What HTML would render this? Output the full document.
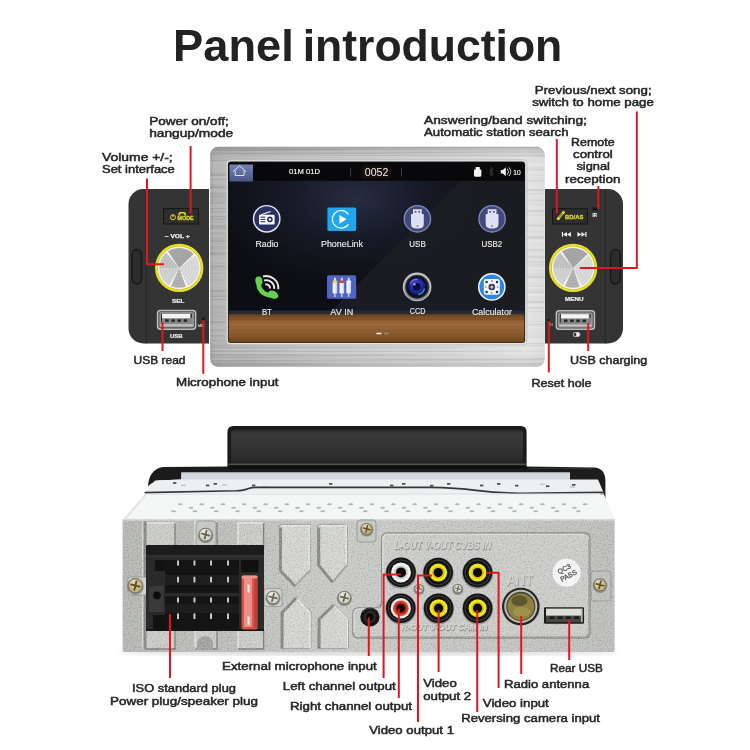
<!DOCTYPE html>
<html><head><meta charset="utf-8"><title>Panel introduction</title>
<style>
html,body{margin:0;padding:0;background:#fff;}
body{width:750px;height:750px;overflow:hidden;font-family:"Liberation Sans",sans-serif;}
svg{display:block;font-family:"Liberation Sans",sans-serif;filter:blur(0.4px);}
</style></head><body>
<svg width="750" height="750" viewBox="0 0 750 750">
<defs>
<linearGradient id="silverV" x1="0" y1="0" x2="0" y2="1">
  <stop offset="0" stop-color="#000" stop-opacity="0.22"/><stop offset="0.02" stop-color="#000" stop-opacity="0.10"/>
  <stop offset="0.06" stop-color="#000" stop-opacity="0"/><stop offset="0.93" stop-color="#000" stop-opacity="0"/>
  <stop offset="0.985" stop-color="#000" stop-opacity="0.07"/><stop offset="1" stop-color="#000" stop-opacity="0.16"/>
</linearGradient>
<linearGradient id="silverH" x1="0" y1="0" x2="1" y2="0">
  <stop offset="0" stop-color="#a0a0a0"/><stop offset="0.012" stop-color="#b2b2b2"/><stop offset="0.05" stop-color="#b9b9b9"/>
  <stop offset="0.3" stop-color="#c8c8c8"/><stop offset="0.65" stop-color="#d6d6d6"/><stop offset="0.94" stop-color="#e5e5e5"/><stop offset="1" stop-color="#dedede"/>
</linearGradient>
<pattern id="brush" width="8" height="3" patternUnits="userSpaceOnUse">
  <rect width="8" height="1" y="0" fill="#fff" opacity="0.10"/><rect width="8" height="1" y="2" fill="#000" opacity="0.035"/>
</pattern>
<radialGradient id="glow" cx="0.43" cy="0.2" r="0.5">
  <stop offset="0" stop-color="#272c42"/><stop offset="0.45" stop-color="#171a27"/><stop offset="1" stop-color="#0d0e13"/>
</radialGradient>
<linearGradient id="wood" x1="0" y1="0" x2="0" y2="1">
  <stop offset="0" stop-color="#63401e"/><stop offset="0.1" stop-color="#784c26"/><stop offset="0.32" stop-color="#9c683a"/><stop offset="0.6" stop-color="#8f5f34"/><stop offset="0.85" stop-color="#7e5024"/><stop offset="1" stop-color="#66401c"/>
</linearGradient>
<linearGradient id="homeb" x1="0" y1="0" x2="0" y2="1">
  <stop offset="0" stop-color="#7482b4"/><stop offset="1" stop-color="#4a5688"/>
</linearGradient>
<radialGradient id="knob" cx="0.5" cy="0.5" r="0.5">
  <stop offset="0" stop-color="#e8e8e8"/><stop offset="0.7" stop-color="#c4c4c4"/><stop offset="1" stop-color="#d8d8d8"/>
</radialGradient>
<radialGradient id="lens" cx="0.45" cy="0.4" r="0.6">
  <stop offset="0" stop-color="#5a6af0"/><stop offset="0.5" stop-color="#2230b0"/><stop offset="1" stop-color="#0a0f50"/>
</radialGradient>
<linearGradient id="zinc" x1="0" y1="0" x2="1" y2="0">
  <stop offset="0" stop-color="#b7b9b6"/><stop offset="0.25" stop-color="#c0c2bf"/><stop offset="0.42" stop-color="#cbcdca"/><stop offset="0.75" stop-color="#c6c8c5"/><stop offset="1" stop-color="#bfc1be"/>
</linearGradient>
<linearGradient id="blackplate" x1="0" y1="0" x2="0" y2="1">
  <stop offset="0" stop-color="#2c2c2c"/><stop offset="0.12" stop-color="#383838"/><stop offset="0.5" stop-color="#343434"/>
  <stop offset="0.85" stop-color="#2c2c2c"/><stop offset="1" stop-color="#222222"/>
</linearGradient>
<filter id="noise" x="0" y="0" width="1" height="1">
  <feTurbulence type="fractalNoise" baseFrequency="0.7" numOctaves="2" seed="3" result="n"/>
  <feColorMatrix type="matrix" values="2.6 0 0 0 -0.8  2.6 0 0 0 -0.8  2.6 0 0 0 -0.8  0 0 0 0 1"/>
  <feComposite in2="SourceGraphic" operator="in"/>
</filter>
<filter id="streak" x="0" y="0" width="1" height="1">
  <feTurbulence type="fractalNoise" baseFrequency="0.003 0.55" numOctaves="2" seed="7"/>
  <feColorMatrix type="matrix" values="3 0 0 0 -1  3 0 0 0 -1  3 0 0 0 -1  0 0 0 0 1"/>
  <feComposite in2="SourceGraphic" operator="in"/>
</filter>
<filter id="b1"><feGaussianBlur stdDeviation="1"/></filter>
<filter id="b05"><feGaussianBlur stdDeviation="0.5"/></filter>
<filter id="b3"><feGaussianBlur stdDeviation="3"/></filter>
</defs>
<rect width="750" height="750" fill="#ffffff"/>
<text x="173.1" y="61.2" font-size="43.5" fill="#222" textLength="120.6" lengthAdjust="spacingAndGlyphs" font-weight="bold">Panel</text>
<text x="302.7" y="61.2" font-size="43.5" fill="#222" textLength="259.6" lengthAdjust="spacingAndGlyphs" font-weight="bold">introduction</text>
<path d="M209,189 H143.5 A15,15 0 0 0 128.5,204 V328.5 A15,15 0 0 0 143.5,343.5 H209 Z" fill="#343434"/>
<path d="M146.3,189 V343.5" stroke="#262626" stroke-width="1"/>
<rect x="132" y="249.5" width="9.6" height="34.5" rx="4.8" fill="#2c2c2c" stroke="#161616" stroke-width="1.4"/>
<path d="M545,189 H608 A15,15 0 0 1 623,204 V328.5 A15,15 0 0 1 608,343.5 H545 Z" fill="#343434"/>
<path d="M605.3,189 V343.5" stroke="#262626" stroke-width="1"/>
<rect x="610.6" y="249.5" width="9.6" height="34.5" rx="4.8" fill="#2c2c2c" stroke="#161616" stroke-width="1.4"/>
<rect x="163.6" y="208.6" width="34.8" height="15.4" fill="#2e2e2e" stroke="#191919" stroke-width="1.1"/>
<circle cx="173" cy="217.3" r="2.5" fill="none" stroke="#e2d92a" stroke-width="1"/><path d="M173,214.4 V217.4" stroke="#e2d92a" stroke-width="1"/>
<text x="177.6" y="220.4" font-size="5.7" fill="#e2d92a" textLength="16" lengthAdjust="spacingAndGlyphs" stroke="#e2d92a" stroke-width="0.3" font-weight="bold">MODE</text>
<path d="M178.4,215.4 v-1.4 q0,-2 2,-2 h3.6 q2,0 2,2 v1.4 h-1.7 v-1.2 q0,-0.7 -0.7,-0.7 h-2.8 q-0.7,0 -0.7,0.7 v1.2 z" fill="#e2d92a"/>
<text x="177.3" y="238.4" font-size="6.1" fill="#f0f0f0" text-anchor="middle" textLength="25" lengthAdjust="spacingAndGlyphs" stroke="#f0f0f0" stroke-width="0.25" font-weight="bold">– VOL +</text>
<clipPath id="kc179"><circle cx="179.2" cy="267.9" r="20.2"/></clipPath>
<circle cx="179.2" cy="267.9" r="24.2" fill="#e9e128"/>
<circle cx="179.2" cy="267.9" r="21.7" fill="none" stroke="#6a6410" stroke-width="0.5" stroke-dasharray="1.2 0.8" opacity="0.7"/>
<circle cx="179.2" cy="267.9" r="21.3" fill="#f2f2ee"/>
<circle cx="179.2" cy="267.9" r="20.2" fill="#cfcfcf"/>
<g clip-path="url(#kc179)"><g filter="url(#b05)">
<path d="M179.2,267.9 L165.89,248.90 A23.2,23.2 0 0 1 196.44,252.38 Z" fill="#a7a7a7" opacity="1"/>
<path d="M179.2,267.9 L196.44,252.38 A23.2,23.2 0 0 1 188.64,289.09 Z" fill="#dcdcdc" opacity="1"/>
<path d="M179.2,267.9 L187.13,289.70 A23.2,23.2 0 0 1 169.03,288.75 Z" fill="#b4b4b4" opacity="1"/>
<path d="M179.2,267.9 L169.03,288.75 A23.2,23.2 0 0 1 156.00,267.90 Z" fill="#d3d3d3" opacity="1"/>
<path d="M179.2,267.9 L156.00,267.90 A23.2,23.2 0 0 1 165.89,248.90 Z" fill="#c5c5c5" opacity="1"/>
<path d="M179.2,267.9 L164.29,250.13 A23.2,23.2 0 0 1 166.23,248.67 Z" fill="#ffffff" opacity="0.95"/>
<path d="M179.2,267.9 L195.78,251.67 A23.2,23.2 0 0 1 197.58,253.74 Z" fill="#ffffff" opacity="0.7"/>
<path d="M179.2,267.9 L189.37,288.75 A23.2,23.2 0 0 1 187.13,289.70 Z" fill="#ffffff" opacity="0.95"/>
<path d="M179.2,267.9 L169.76,289.09 A23.2,23.2 0 0 1 167.60,287.99 Z" fill="#ffffff" opacity="0.95"/>
</g>
<circle cx="179.2" cy="267.9" r="4" fill="none" stroke="#6a6a6a" stroke-width="0.45" opacity="0.25"/>
<circle cx="179.2" cy="267.9" r="7" fill="none" stroke="#6a6a6a" stroke-width="0.45" opacity="0.25"/>
<circle cx="179.2" cy="267.9" r="10" fill="none" stroke="#6a6a6a" stroke-width="0.45" opacity="0.25"/>
<circle cx="179.2" cy="267.9" r="13" fill="none" stroke="#6a6a6a" stroke-width="0.45" opacity="0.25"/>
<circle cx="179.2" cy="267.9" r="16" fill="none" stroke="#6a6a6a" stroke-width="0.45" opacity="0.25"/>
<circle cx="179.2" cy="267.9" r="19" fill="none" stroke="#6a6a6a" stroke-width="0.45" opacity="0.25"/>
</g>
<circle cx="179.2" cy="267.9" r="20.2" fill="none" stroke="#fff" stroke-width="0.8" opacity="0.7"/>
<text x="178.2" y="302.7" font-size="5.2" fill="#f0f0f0" text-anchor="middle" textLength="12.4" lengthAdjust="spacingAndGlyphs" stroke="#f0f0f0" stroke-width="0.2" font-weight="bold">SEL</text>
<rect x="156.8" y="309.7" width="39.6" height="20.2" rx="3.6" fill="#bdbdbd"/>
<rect x="158.3" y="311.2" width="36.6" height="17.2" rx="2.4" fill="#4c4c4c"/>
<rect x="159.4" y="312.3" width="34.4" height="15.0" rx="1.6" fill="#a6a6a6"/>
<rect x="160.60000000000002" y="313.3" width="32.0" height="11.799999999999999" fill="#868686"/>
<rect x="162.0" y="314.0" width="28.0" height="4.2" fill="#f4f4f4"/>
<rect x="161.0" y="313.7" width="1" height="8.6" fill="#2a2a2a"/><rect x="190.8" y="313.7" width="1" height="4.2" fill="#2a2a2a"/>
<rect x="165.20000000000002" y="319.3" width="3.5" height="2.6" fill="#262626"/>
<rect x="171.35000000000002" y="319.3" width="3.5" height="2.6" fill="#262626"/>
<rect x="177.50000000000003" y="319.3" width="3.5" height="2.6" fill="#262626"/>
<rect x="183.65000000000003" y="319.3" width="3.5" height="2.6" fill="#262626"/>
<rect x="160.60000000000002" y="324.29999999999995" width="32.0" height="1.4" fill="#c9c9c9"/>
<text x="176.3" y="337.6" font-size="5.2" fill="#f0f0f0" text-anchor="middle" textLength="12.6" lengthAdjust="spacingAndGlyphs" stroke="#f0f0f0" stroke-width="0.2" font-weight="bold">USB</text>
<circle cx="203.3" cy="318.8" r="1.2" fill="#0a0a0a"/>
<text x="198" y="326.8" font-size="2.8" fill="#ddd" textLength="6.6" lengthAdjust="spacingAndGlyphs" stroke="#ddd" stroke-width="0.1">MIC</text>
<rect x="552.6" y="208.6" width="34.8" height="15.4" fill="#2e2e2e" stroke="#191919" stroke-width="1.1"/>
<path d="M558.2,218.8 L563.4,212.4" stroke="#e2d92a" stroke-width="2.3" stroke-linecap="round"/>
<path d="M558.6,218.3 L563,212.9" stroke="#2e2e2e" stroke-width="0.7" stroke-linecap="round"/>
<circle cx="558.3" cy="218.5" r="1.5" fill="#e2d92a"/><circle cx="563.4" cy="212.5" r="1.4" fill="#e2d92a"/>
<text x="565.1" y="218.7" font-size="6" fill="#e2d92a" textLength="18.2" lengthAdjust="spacingAndGlyphs" stroke="#e2d92a" stroke-width="0.3" font-weight="bold">BD/AS</text>
<rect x="592.4" y="207.4" width="5.4" height="3.2" rx="0.6" fill="#161616"/>
<text x="594.7" y="217.2" font-size="4.6" fill="#f0f0f0" text-anchor="middle" textLength="4.4" lengthAdjust="spacingAndGlyphs" stroke="#f0f0f0" stroke-width="0.15" font-weight="bold">IR</text>
<path d="M561.9,232.0 v4.8 h1.2 v-4.8 z M563.1,234.4 l3.9,-2.4 v4.8 z M567.1,234.4 l3.9,-2.4 v4.8 z" fill="#f2f2f2"/>
<path d="M586.5,232.0 v4.8 h-1.2 v-4.8 z M585.3,234.4 l-3.9,-2.4 v4.8 z M581.3,234.4 l-3.9,-2.4 v4.8 z" fill="#f2f2f2"/>
<clipPath id="kc573"><circle cx="573.1" cy="267.9" r="20.2"/></clipPath>
<circle cx="573.1" cy="267.9" r="24.2" fill="#e9e128"/>
<circle cx="573.1" cy="267.9" r="21.7" fill="none" stroke="#6a6410" stroke-width="0.5" stroke-dasharray="1.2 0.8" opacity="0.7"/>
<circle cx="573.1" cy="267.9" r="21.3" fill="#f2f2ee"/>
<circle cx="573.1" cy="267.9" r="20.2" fill="#cfcfcf"/>
<g clip-path="url(#kc573)"><g filter="url(#b05)">
<path d="M573.1,267.9 L559.79,248.90 A23.2,23.2 0 0 1 590.34,252.38 Z" fill="#a7a7a7" opacity="1"/>
<path d="M573.1,267.9 L590.34,252.38 A23.2,23.2 0 0 1 582.54,289.09 Z" fill="#dcdcdc" opacity="1"/>
<path d="M573.1,267.9 L581.03,289.70 A23.2,23.2 0 0 1 562.93,288.75 Z" fill="#b4b4b4" opacity="1"/>
<path d="M573.1,267.9 L562.93,288.75 A23.2,23.2 0 0 1 549.90,267.90 Z" fill="#d3d3d3" opacity="1"/>
<path d="M573.1,267.9 L549.90,267.90 A23.2,23.2 0 0 1 559.79,248.90 Z" fill="#c5c5c5" opacity="1"/>
<path d="M573.1,267.9 L558.19,250.13 A23.2,23.2 0 0 1 560.13,248.67 Z" fill="#ffffff" opacity="0.95"/>
<path d="M573.1,267.9 L589.68,251.67 A23.2,23.2 0 0 1 591.48,253.74 Z" fill="#ffffff" opacity="0.7"/>
<path d="M573.1,267.9 L583.27,288.75 A23.2,23.2 0 0 1 581.03,289.70 Z" fill="#ffffff" opacity="0.95"/>
<path d="M573.1,267.9 L563.66,289.09 A23.2,23.2 0 0 1 561.50,287.99 Z" fill="#ffffff" opacity="0.95"/>
</g>
<circle cx="573.1" cy="267.9" r="4" fill="none" stroke="#6a6a6a" stroke-width="0.45" opacity="0.25"/>
<circle cx="573.1" cy="267.9" r="7" fill="none" stroke="#6a6a6a" stroke-width="0.45" opacity="0.25"/>
<circle cx="573.1" cy="267.9" r="10" fill="none" stroke="#6a6a6a" stroke-width="0.45" opacity="0.25"/>
<circle cx="573.1" cy="267.9" r="13" fill="none" stroke="#6a6a6a" stroke-width="0.45" opacity="0.25"/>
<circle cx="573.1" cy="267.9" r="16" fill="none" stroke="#6a6a6a" stroke-width="0.45" opacity="0.25"/>
<circle cx="573.1" cy="267.9" r="19" fill="none" stroke="#6a6a6a" stroke-width="0.45" opacity="0.25"/>
</g>
<circle cx="573.1" cy="267.9" r="20.2" fill="none" stroke="#fff" stroke-width="0.8" opacity="0.7"/>
<text x="574.3" y="301.4" font-size="5.2" fill="#f0f0f0" text-anchor="middle" textLength="18.4" lengthAdjust="spacingAndGlyphs" stroke="#f0f0f0" stroke-width="0.2" font-weight="bold">MENU</text>
<rect x="555.6" y="309.9" width="39.6" height="20.2" rx="3.6" fill="#bdbdbd"/>
<rect x="557.1" y="311.4" width="36.6" height="17.2" rx="2.4" fill="#4c4c4c"/>
<rect x="558.2" y="312.5" width="34.4" height="15.0" rx="1.6" fill="#a6a6a6"/>
<rect x="559.4" y="313.5" width="32.0" height="11.799999999999999" fill="#868686"/>
<rect x="560.8000000000001" y="314.2" width="28.0" height="4.2" fill="#f4f4f4"/>
<rect x="559.8000000000001" y="313.9" width="1" height="8.6" fill="#2a2a2a"/><rect x="589.6" y="313.9" width="1" height="4.2" fill="#2a2a2a"/>
<rect x="564.0" y="319.5" width="3.5" height="2.6" fill="#262626"/>
<rect x="570.15" y="319.5" width="3.5" height="2.6" fill="#262626"/>
<rect x="576.3" y="319.5" width="3.5" height="2.6" fill="#262626"/>
<rect x="582.45" y="319.5" width="3.5" height="2.6" fill="#262626"/>
<rect x="559.4" y="324.49999999999994" width="32.0" height="1.4" fill="#c9c9c9"/>
<rect x="573.6" y="332.6" width="5.6" height="3.8" rx="0.6" fill="none" stroke="#eee" stroke-width="0.7"/><rect x="576.2" y="332.6" width="3" height="3.8" fill="#eee"/><rect x="579.4" y="333.6" width="0.9" height="1.8" fill="#eee"/>
<circle cx="548.7" cy="320" r="1.1" fill="#0a0a0a"/>
<text x="550.6" y="326.2" font-size="2.6" fill="#bbb" text-anchor="middle">RES</text>
<rect x="210.2" y="146.8" width="334.6" height="220" rx="8" fill="url(#silverH)"/>
<rect x="210.2" y="146.8" width="334.6" height="220" rx="8" fill="url(#silverV)"/>
<rect x="210.2" y="146.8" width="334.6" height="220" rx="8" fill="#888" filter="url(#streak)" opacity="0.07"/>
<rect x="225.4" y="159" width="302.2" height="186.4" rx="5" fill="#b8b8b8" opacity="0.55"/>
<rect x="226.6" y="160.2" width="299.8" height="184" rx="4" fill="#e2e2e2"/>
<rect x="227.9" y="161.6" width="297.2" height="181.4" rx="3" fill="#1a1a1a"/>
<clipPath id="scr"><rect x="228.4" y="162.2" width="296.20000000000005" height="180.2" rx="2.2"/></clipPath>
<g clip-path="url(#scr)">
<rect x="228.4" y="162.2" width="296.20000000000005" height="180.2" fill="url(#glow)"/>
<path d="M461.6,181 L525,181 L525,313 L330,313 Z" fill="#1d1e23" opacity="0.9"/>
<path d="M461,181 L330,313" stroke="#2a2c34" stroke-width="0.8" opacity="0.6"/>
<rect x="228.4" y="162.2" width="296.20000000000005" height="18.6" fill="#08080a"/>
<rect x="228.4" y="314" width="296.20000000000005" height="29" fill="url(#wood)"/>
<rect x="228.4" y="310.6" width="296.20000000000005" height="3.6" fill="#262a32"/>
<rect x="228.4" y="319" width="296.20000000000005" height="0.8" fill="#3a1f0a" opacity="0.12"/>
<rect x="228.4" y="322.5" width="296.20000000000005" height="0.8" fill="#3a1f0a" opacity="0.1"/>
<rect x="228.4" y="326" width="296.20000000000005" height="0.8" fill="#3a1f0a" opacity="0.08"/>
<rect x="228.4" y="330" width="296.20000000000005" height="0.8" fill="#3a1f0a" opacity="0.12"/>
<rect x="228.4" y="334" width="296.20000000000005" height="0.8" fill="#3a1f0a" opacity="0.08"/>
<rect x="228.4" y="338" width="296.20000000000005" height="0.8" fill="#3a1f0a" opacity="0.1"/>
<rect x="229.4" y="164.6" width="23.6" height="17" rx="1" fill="url(#homeb)"/>
<path d="M233,171.7 L239.6,165.9 L246.2,171.7 M235.2,170.6 V175.5 H244 V170.6" fill="none" stroke="#e6e9fa" stroke-width="0.95" stroke-linejoin="round"/>
<text x="304.6" y="174.4" font-size="6.6" fill="#f4f4f4" text-anchor="middle" textLength="31" lengthAdjust="spacingAndGlyphs" stroke="#f4f4f4" stroke-width="0.15">01M 01D</text>
<rect x="350.4" y="167.6" width="0.7" height="9" fill="#555"/>
<rect x="401.2" y="167.6" width="0.7" height="9" fill="#555"/>
<rect x="361.6" y="165.6" width="29.6" height="13" rx="2" fill="#1e100c" opacity="0.8"/>
<text x="364.8" y="176" font-size="11.6" fill="#f0f0f0" textLength="23.6" lengthAdjust="spacingAndGlyphs">0052</text>
<path d="M475.6,167 h4.2 v2.4 h1 q0.6,0 0.6,0.6 v5.2 q0,1.6 -1.6,1.6 h-4.2 q-1.6,0 -1.6,-1.6 v-5.2 q0,-0.6 0.6,-0.6 h1 z" fill="#f2f2f2"/>
<path d="M489.4,169.6 l4,4.4 l-2.2,2.2 v-9 l2.2,2.2 l-4,4.4" fill="none" stroke="#4a4a4a" stroke-width="0.7"/>
<path d="M500.8,170 h2 l3,-2.8 v9 l-3,-2.8 h-2 z" fill="#f2f2f2"/><path d="M507.4,168.8 q2.2,2.9 0,5.8 M509,167.4 q3.4,4.3 0,8.6" fill="none" stroke="#e0e0e0" stroke-width="0.9"/>
<text x="513.2" y="174.6" font-size="6.6" fill="#f4f4f4" textLength="7.4" lengthAdjust="spacingAndGlyphs" stroke="#f4f4f4" stroke-width="0.15">10</text>
<circle cx="266.7" cy="218.8" r="13.2" fill="#2b3062" stroke="#e4e6f4" stroke-width="1.45"/>
<path d="M261.09999999999997,214.8 L270.5,211.60000000000002" stroke="#fff" stroke-width="1.1"/>
<rect x="259.0" y="214.70000000000002" width="15.6" height="9.8" rx="1" fill="#fff"/>
<circle cx="269.9" cy="219.4" r="2.8" fill="#2b3062"/><circle cx="269.9" cy="219.4" r="1.2" fill="#fff"/>
<rect x="260.5" y="216.60000000000002" width="4.8" height="1.1" fill="#2b3062"/>
<rect x="260.5" y="218.90000000000003" width="4.8" height="1.1" fill="#2b3062"/>
<rect x="260.5" y="221.20000000000002" width="4.8" height="1.1" fill="#2b3062"/>
<text x="267" y="246.8" font-size="8.6" fill="#f0f0f0" text-anchor="middle" textLength="23" lengthAdjust="spacingAndGlyphs" stroke="#f0f0f0" stroke-width="0.12">Radio</text>
<rect x="327.4" y="207.6" width="28.8" height="23.3" rx="1.6" fill="#21a5ec"/>
<path d="M348.4,214.3 A8.8,8.8 0 1 0 348.4,224.3" fill="none" stroke="#fff" stroke-width="1.15"/>
<path d="M339.4,214.9 L346.59999999999997,219.3 L339.4,223.70000000000002 Z" fill="#fff"/>
<text x="342" y="246.8" font-size="8.6" fill="#f0f0f0" text-anchor="middle" textLength="42" lengthAdjust="spacingAndGlyphs" stroke="#f0f0f0" stroke-width="0.12">PhoneLink</text>
<circle cx="417.4" cy="218.8" r="13.2" fill="#42497a" stroke="#808ac8" stroke-width="1.3"/>
<path d="M413.0,209.20000000000002 h8.8 v4.8 h1.4 q0.6,0 0.6,0.6 v9.2 q0,4.6 -4.6,4.6 h-3.6 q-4.6,0 -4.6,-4.6 v-9.2 q0,-0.6 0.6,-0.6 h1.4 z" fill="#dedff5"/>
<rect x="414.7" y="211.0" width="1.7" height="1.6" fill="#42497a"/><rect x="418.4" y="211.0" width="1.7" height="1.6" fill="#42497a"/>
<circle cx="417.4" cy="226.0" r="0.8" fill="#42497a"/>
<text x="417.5" y="246.8" font-size="8.6" fill="#f0f0f0" text-anchor="middle" textLength="16.4" lengthAdjust="spacingAndGlyphs" stroke="#f0f0f0" stroke-width="0.12">USB</text>
<circle cx="492.1" cy="218.8" r="13.2" fill="#42497a" stroke="#808ac8" stroke-width="1.3"/>
<path d="M487.70000000000005,209.20000000000002 h8.8 v4.8 h1.4 q0.6,0 0.6,0.6 v9.2 q0,4.6 -4.6,4.6 h-3.6 q-4.6,0 -4.6,-4.6 v-9.2 q0,-0.6 0.6,-0.6 h1.4 z" fill="#dedff5"/>
<rect x="489.40000000000003" y="211.0" width="1.7" height="1.6" fill="#42497a"/><rect x="493.1" y="211.0" width="1.7" height="1.6" fill="#42497a"/>
<circle cx="492.1" cy="226.0" r="0.8" fill="#42497a"/>
<text x="491.9" y="246.8" font-size="8.6" fill="#f0f0f0" text-anchor="middle" textLength="20.8" lengthAdjust="spacingAndGlyphs" stroke="#f0f0f0" stroke-width="0.12">USB2</text>
<path d="M258.8,281.4 C257.6,289.4 263.4,295.4 272.4,295.6" fill="none" stroke="#63d250" stroke-width="4.7" stroke-linecap="round"/>
<ellipse cx="258.9" cy="280.9" rx="3.5" ry="4.5" fill="#63d250" transform="rotate(-12 258.9 280.9)"/>
<ellipse cx="273.2" cy="294.7" rx="5.4" ry="3.7" fill="#63d250" transform="rotate(28 273.2 294.7)"/>
<path d="M265.22,284.53 A3.8,3.8 0 0 1 269.99,288.53" fill="none" stroke="#ececec" stroke-width="1.9"/>
<path d="M264.13,280.47 A8,8 0 0 1 274.17,288.90" fill="none" stroke="#ececec" stroke-width="1.9"/>
<path d="M263.04,276.42 A12.2,12.2 0 0 1 278.35,289.26" fill="none" stroke="#ececec" stroke-width="1.9"/>
<text x="266.9" y="315.0" font-size="8.6" fill="#f0f0f0" text-anchor="middle" textLength="10" lengthAdjust="spacingAndGlyphs" stroke="#f0f0f0" stroke-width="0.12">BT</text>
<rect x="327" y="275.3" width="29.2" height="23.5" rx="1.6" fill="#5064c2"/>
<rect x="334.0" y="277.8" width="1.8" height="3.4" fill="#e4e4ea"/>
<rect x="332.59999999999997" y="282.6" width="4.6" height="11" rx="0.8" fill="#f2f2f6"/>
<rect x="332.59999999999997" y="280.4" width="4.6" height="2.6" rx="0.8" fill="#e8dc5a"/>
<rect x="334.29999999999995" y="293.4" width="1.2" height="3.6" fill="#e0e0e8"/>
<rect x="335.79999999999995" y="283" width="1.1" height="10.2" fill="#b9bccb" opacity="0.7"/>
<rect x="340.90000000000003" y="277.8" width="1.8" height="3.4" fill="#e4e4ea"/>
<rect x="339.5" y="282.6" width="4.6" height="11" rx="0.8" fill="#f2f2f6"/>
<rect x="339.5" y="280.4" width="4.6" height="2.6" rx="0.8" fill="#d84040"/>
<rect x="341.2" y="293.4" width="1.2" height="3.6" fill="#e0e0e8"/>
<rect x="342.7" y="283" width="1.1" height="10.2" fill="#b9bccb" opacity="0.7"/>
<rect x="347.8" y="277.8" width="1.8" height="3.4" fill="#e4e4ea"/>
<rect x="346.4" y="282.6" width="4.6" height="11" rx="0.8" fill="#f2f2f6"/>
<rect x="346.4" y="280.4" width="4.6" height="2.6" rx="0.8" fill="#f6f6f6"/>
<rect x="348.09999999999997" y="293.4" width="1.2" height="3.6" fill="#e0e0e8"/>
<rect x="349.59999999999997" y="283" width="1.1" height="10.2" fill="#b9bccb" opacity="0.7"/>
<text x="341.8" y="314.8" font-size="8.6" fill="#f0f0f0" text-anchor="middle" textLength="23" lengthAdjust="spacingAndGlyphs" stroke="#f0f0f0" stroke-width="0.12">AV IN</text>
<circle cx="417.1" cy="286.9" r="14.3" fill="#c6c7cd"/>
<circle cx="417.1" cy="287.5" r="13" fill="#8b8c94"/>
<circle cx="417.1" cy="286.9" r="11.8" fill="#2a2b33"/>
<circle cx="417.1" cy="286.9" r="10.6" fill="#0d0d16"/>
<circle cx="417.1" cy="286.9" r="8.8" fill="url(#lens)"/>
<path d="M410.1,283.5 A7.6,7.6 0 0 1 417.70000000000005,279.29999999999995" fill="none" stroke="#9a62e0" stroke-width="1.6" opacity="0.9"/>
<path d="M424.5,288.5 A7.6,7.6 0 0 1 418.1,294.4" fill="none" stroke="#3a9cf0" stroke-width="1.5" opacity="0.8"/>
<circle cx="416.8" cy="286.7" r="3.9" fill="#090c3c"/>
<circle cx="414.5" cy="284.29999999999995" r="1.2" fill="#b8c0ff" opacity="0.85"/>
<text x="417.6" y="313.8" font-size="8.6" fill="#f0f0f0" text-anchor="middle" textLength="15.6" lengthAdjust="spacingAndGlyphs" stroke="#f0f0f0" stroke-width="0.12">CCD</text>
<circle cx="491.8" cy="286.9" r="13.1" fill="#2b86e2" stroke="#f2f5fb" stroke-width="1.5"/>
<rect x="483.8" y="279.09999999999997" width="16" height="15.7" rx="2.4" fill="#f3f6fc"/>
<circle cx="491.8" cy="287.0" r="3.3" fill="#2b2b36"/><circle cx="491.8" cy="287.0" r="1.5" fill="#b4b8c4"/>
<rect x="485.5" y="280.9" width="2.2" height="2.2" fill="#2b2b36"/>
<rect x="485.5" y="290.9" width="2.2" height="2.2" fill="#2b2b36"/>
<rect x="495.9" y="280.9" width="2.2" height="2.2" fill="#2b2b36"/>
<rect x="495.9" y="290.9" width="2.2" height="2.2" fill="#2b2b36"/>
<rect x="491.2" y="280.4" width="1.2" height="1.2" fill="#50505e"/>
<rect x="491.2" y="292.4" width="1.2" height="1.2" fill="#50505e"/>
<rect x="485.2" y="286.4" width="1.2" height="1.2" fill="#50505e"/>
<rect x="497.2" y="286.4" width="1.2" height="1.2" fill="#50505e"/>
<path d="M486.6,287.0 H497.0 M491.8,281.9 V292.09999999999997" stroke="#c6cad6" stroke-width="0.5"/>
<text x="491.9" y="314.5" font-size="8.6" fill="#f0f0f0" text-anchor="middle" textLength="40" lengthAdjust="spacingAndGlyphs" stroke="#f0f0f0" stroke-width="0.12">Calculator</text>
<rect x="376.4" y="332.8" width="5" height="1.5" rx="0.5" fill="#fff"/><rect x="384.2" y="332.8" width="4.4" height="1.5" rx="0.5" fill="#9a8878"/>
</g>
<text x="149.2" y="124.5" font-size="11.3" fill="#262626" textLength="79.5" lengthAdjust="spacingAndGlyphs" stroke="#262626" stroke-width="0.5">Power on/off;</text>
<text x="149.2" y="136.5" font-size="11.3" fill="#262626" textLength="84" lengthAdjust="spacingAndGlyphs" stroke="#262626" stroke-width="0.5">hangup/mode</text>
<text x="102" y="160.5" font-size="11.3" fill="#262626" textLength="70.7" lengthAdjust="spacingAndGlyphs" stroke="#262626" stroke-width="0.5">Volume +/-;</text>
<text x="102" y="172.5" font-size="11.3" fill="#262626" textLength="72.8" lengthAdjust="spacingAndGlyphs" stroke="#262626" stroke-width="0.5">Set interface</text>
<text x="593.2" y="94.3" font-size="11.3" fill="#262626" text-anchor="middle" textLength="116.8" lengthAdjust="spacingAndGlyphs" stroke="#262626" stroke-width="0.5">Previous/next song;</text>
<text x="593" y="106.4" font-size="11.3" fill="#262626" text-anchor="middle" textLength="121.7" lengthAdjust="spacingAndGlyphs" stroke="#262626" stroke-width="0.5">switch to home page</text>
<text x="424" y="123.7" font-size="11.3" fill="#262626" textLength="162.9" lengthAdjust="spacingAndGlyphs" stroke="#262626" stroke-width="0.5">Answering/band switching;</text>
<text x="424" y="135.9" font-size="11.3" fill="#262626" textLength="144.5" lengthAdjust="spacingAndGlyphs" stroke="#262626" stroke-width="0.5">Automatic station search</text>
<text x="592.8" y="145.6" font-size="11.3" fill="#262626" text-anchor="middle" textLength="43.5" lengthAdjust="spacingAndGlyphs" stroke="#262626" stroke-width="0.5">Remote</text>
<text x="592.9" y="157.8" font-size="11.3" fill="#262626" text-anchor="middle" textLength="39.8" lengthAdjust="spacingAndGlyphs" stroke="#262626" stroke-width="0.5">control</text>
<text x="593.2" y="169.9" font-size="11.3" fill="#262626" text-anchor="middle" textLength="33.6" lengthAdjust="spacingAndGlyphs" stroke="#262626" stroke-width="0.5">signal</text>
<text x="592.7" y="182.6" font-size="11.3" fill="#262626" text-anchor="middle" textLength="55.4" lengthAdjust="spacingAndGlyphs" stroke="#262626" stroke-width="0.5">reception</text>
<text x="133.5" y="363.8" font-size="11.3" fill="#262626" textLength="52" lengthAdjust="spacingAndGlyphs" stroke="#262626" stroke-width="0.5">USB read</text>
<text x="176" y="386.4" font-size="11.3" fill="#262626" textLength="102.6" lengthAdjust="spacingAndGlyphs" stroke="#262626" stroke-width="0.5">Microphone input</text>
<text x="570" y="363.8" font-size="11.3" fill="#262626" textLength="77.3" lengthAdjust="spacingAndGlyphs" stroke="#262626" stroke-width="0.5">USB charging</text>
<text x="531.5" y="387" font-size="11.3" fill="#262626" textLength="60" lengthAdjust="spacingAndGlyphs" stroke="#262626" stroke-width="0.5">Reset hole</text>
<path d="M190.6,146 V213.4" fill="none" stroke="#e0181e" stroke-width="2"/>
<path d="M147,178.6 V264.2 H164" fill="none" stroke="#e0181e" stroke-width="2"/>
<path d="M636.8,111.6 V268 H579.8" fill="none" stroke="#e0181e" stroke-width="2"/>
<path d="M556.8,139 V213.4" fill="none" stroke="#e0181e" stroke-width="2"/>
<path d="M598.3,186 V208.8" fill="none" stroke="#e0181e" stroke-width="2"/>
<path d="M162.5,322 V351" fill="none" stroke="#e0181e" stroke-width="2"/>
<path d="M203.3,320 V373.8" fill="none" stroke="#e0181e" stroke-width="2"/>
<path d="M548.8,321 V372.4" fill="none" stroke="#e0181e" stroke-width="2"/>
<path d="M588.2,323 V351" fill="none" stroke="#e0181e" stroke-width="2"/>
<ellipse cx="368" cy="651" rx="250" ry="4" fill="#000" opacity="0.18" filter="url(#b3)"/>
<path d="M227.4,467 V432 q0,-6 6,-6 H520.6 q6,0 6,6 V467 Z" fill="#1a1a1a"/>
<path d="M231,463.4 V433.4 q0,-3.6 3.6,-3.6 H519.4 q3.6,0 3.6,3.6 V463.4 Z" fill="url(#blackplate)"/>
<path d="M227.6,464.2 H526.4" stroke="#747474" stroke-width="0.9"/>
<path d="M148,486.4 C148.6,476 153,468.6 163,467 L228,466.4 H526.6 L594,467.6 C601,468 605,472 605.4,480 V502 H601.4 L598,481 H570 V473.6 H181.4 V479.4 L158,480.6 C153,482 150,484.4 148,486.4 Z" fill="#1c1c1c"/>
<path d="M228,467.4 H526.6" stroke="#0e0e0e" stroke-width="2.6"/>
<path d="M529,468.6 H593" stroke="#3a3a3a" stroke-width="0.8"/>
<path d="M181.4,472.2 H570 V480.6 H181.4 Z" fill="#d2d9df"/>
<path d="M181.4,472.6 H570" stroke="#98a2ac" stroke-width="0.9"/>
<path d="M155,480.4 L181.4,479.6 H598 L604,493.4 H144.6 Z" fill="#eeeff0"/>
<rect x="173" y="482.2" width="3.4" height="1.7" fill="#2e2e2e" opacity="0.85"/>
<rect x="206" y="484.6" width="3.4" height="1.7" fill="#2e2e2e" opacity="0.85"/>
<rect x="213.6" y="483" width="3.4" height="1.7" fill="#2e2e2e" opacity="0.85"/>
<rect x="252" y="484.6" width="3.4" height="1.7" fill="#2e2e2e" opacity="0.85"/>
<rect x="329" y="483" width="3.4" height="1.7" fill="#2e2e2e" opacity="0.85"/>
<rect x="390" y="484.6" width="3.4" height="1.7" fill="#2e2e2e" opacity="0.85"/>
<rect x="402" y="483" width="3.4" height="1.7" fill="#2e2e2e" opacity="0.85"/>
<rect x="430" y="484.8" width="3.4" height="1.7" fill="#2e2e2e" opacity="0.85"/>
<rect x="447" y="483" width="3.4" height="1.7" fill="#2e2e2e" opacity="0.85"/>
<rect x="480" y="484.6" width="3.4" height="1.7" fill="#2e2e2e" opacity="0.85"/>
<rect x="497" y="483" width="3.4" height="1.7" fill="#2e2e2e" opacity="0.85"/>
<rect x="515" y="484.8" width="3.4" height="1.7" fill="#2e2e2e" opacity="0.85"/>
<rect x="546" y="485.4" width="3.4" height="1.7" fill="#2e2e2e" opacity="0.85"/>
<rect x="572" y="484" width="3.4" height="1.7" fill="#2e2e2e" opacity="0.85"/>
<rect x="181" y="484.6" width="5" height="1.4" fill="#c3c6c8"/>
<rect x="222" y="484.2" width="5" height="1.4" fill="#c3c6c8"/>
<rect x="262" y="486" width="5" height="1.4" fill="#c3c6c8"/>
<rect x="540" y="483.6" width="5" height="1.4" fill="#c3c6c8"/>
<rect x="570" y="486.4" width="5" height="1.4" fill="#c3c6c8"/>
<path d="M144.6,492.6 L236,490.8 q8,-0.4 12.6,-2.4 q3,-1 8,-1 H430 q26,0.4 46,3 q20,2.6 44,2.8 L604,492.4" fill="none" stroke="#34373a" stroke-width="1.6"/>
<path d="M144.6,494.4 L604,494" fill="none" stroke="#d2d4d6" stroke-width="1.2"/>
<path d="M144.6,494.6 H604 L614.6,520 H122.6 Z" fill="#f4f5f5"/>
<path d="M144.6,494.6 L122.6,520 L125.6,520 L147,494.6 Z" fill="#e2e4e5"/>
<ellipse cx="180.4" cy="504.2" rx="2.4" ry="1.05" fill="#b2b5b7"/>
<ellipse cx="201.7" cy="504.2" rx="2.4" ry="1.05" fill="#b2b5b7"/>
<ellipse cx="223.0" cy="504.2" rx="2.4" ry="1.05" fill="#b2b5b7"/>
<ellipse cx="244.3" cy="504.2" rx="2.4" ry="1.05" fill="#b2b5b7"/>
<ellipse cx="265.6" cy="504.2" rx="2.4" ry="1.05" fill="#b2b5b7"/>
<ellipse cx="286.9" cy="504.2" rx="2.4" ry="1.05" fill="#b2b5b7"/>
<ellipse cx="308.2" cy="504.2" rx="2.4" ry="1.05" fill="#b2b5b7"/>
<ellipse cx="329.5" cy="504.2" rx="2.4" ry="1.05" fill="#b2b5b7"/>
<ellipse cx="350.8" cy="504.2" rx="2.4" ry="1.05" fill="#b2b5b7"/>
<ellipse cx="372.1" cy="504.2" rx="2.4" ry="1.05" fill="#b2b5b7"/>
<ellipse cx="393.4" cy="504.2" rx="2.4" ry="1.05" fill="#b2b5b7"/>
<ellipse cx="414.7" cy="504.2" rx="2.4" ry="1.05" fill="#b2b5b7"/>
<ellipse cx="436.0" cy="504.2" rx="2.4" ry="1.05" fill="#b2b5b7"/>
<ellipse cx="457.3" cy="504.2" rx="2.4" ry="1.05" fill="#b2b5b7"/>
<ellipse cx="478.6" cy="504.2" rx="2.4" ry="1.05" fill="#b2b5b7"/>
<ellipse cx="499.9" cy="504.2" rx="2.4" ry="1.05" fill="#b2b5b7"/>
<ellipse cx="521.2" cy="504.2" rx="2.4" ry="1.05" fill="#b2b5b7"/>
<ellipse cx="542.5" cy="504.2" rx="2.4" ry="1.05" fill="#b2b5b7"/>
<ellipse cx="563.8" cy="504.2" rx="2.4" ry="1.05" fill="#b2b5b7"/>
<ellipse cx="585.1" cy="504.2" rx="2.4" ry="1.05" fill="#b2b5b7"/>
<ellipse cx="191.0" cy="507.8" rx="2.4" ry="1.05" fill="#b2b5b7"/>
<ellipse cx="212.3" cy="507.8" rx="2.4" ry="1.05" fill="#b2b5b7"/>
<ellipse cx="233.6" cy="507.8" rx="2.4" ry="1.05" fill="#b2b5b7"/>
<ellipse cx="254.9" cy="507.8" rx="2.4" ry="1.05" fill="#b2b5b7"/>
<ellipse cx="276.2" cy="507.8" rx="2.4" ry="1.05" fill="#b2b5b7"/>
<ellipse cx="297.5" cy="507.8" rx="2.4" ry="1.05" fill="#b2b5b7"/>
<ellipse cx="318.8" cy="507.8" rx="2.4" ry="1.05" fill="#b2b5b7"/>
<ellipse cx="340.1" cy="507.8" rx="2.4" ry="1.05" fill="#b2b5b7"/>
<ellipse cx="361.4" cy="507.8" rx="2.4" ry="1.05" fill="#b2b5b7"/>
<ellipse cx="382.7" cy="507.8" rx="2.4" ry="1.05" fill="#b2b5b7"/>
<ellipse cx="404.0" cy="507.8" rx="2.4" ry="1.05" fill="#b2b5b7"/>
<ellipse cx="425.3" cy="507.8" rx="2.4" ry="1.05" fill="#b2b5b7"/>
<ellipse cx="446.6" cy="507.8" rx="2.4" ry="1.05" fill="#b2b5b7"/>
<ellipse cx="467.9" cy="507.8" rx="2.4" ry="1.05" fill="#b2b5b7"/>
<ellipse cx="489.2" cy="507.8" rx="2.4" ry="1.05" fill="#b2b5b7"/>
<ellipse cx="510.5" cy="507.8" rx="2.4" ry="1.05" fill="#b2b5b7"/>
<ellipse cx="531.8" cy="507.8" rx="2.4" ry="1.05" fill="#b2b5b7"/>
<ellipse cx="553.1" cy="507.8" rx="2.4" ry="1.05" fill="#b2b5b7"/>
<ellipse cx="574.4" cy="507.8" rx="2.4" ry="1.05" fill="#b2b5b7"/>
<ellipse cx="173.6" cy="511.2" rx="2.4" ry="1.05" fill="#b2b5b7"/>
<ellipse cx="194.9" cy="511.2" rx="2.4" ry="1.05" fill="#b2b5b7"/>
<ellipse cx="216.2" cy="511.2" rx="2.4" ry="1.05" fill="#b2b5b7"/>
<ellipse cx="237.5" cy="511.2" rx="2.4" ry="1.05" fill="#b2b5b7"/>
<ellipse cx="258.8" cy="511.2" rx="2.4" ry="1.05" fill="#b2b5b7"/>
<ellipse cx="280.1" cy="511.2" rx="2.4" ry="1.05" fill="#b2b5b7"/>
<ellipse cx="301.4" cy="511.2" rx="2.4" ry="1.05" fill="#b2b5b7"/>
<ellipse cx="322.7" cy="511.2" rx="2.4" ry="1.05" fill="#b2b5b7"/>
<ellipse cx="344.0" cy="511.2" rx="2.4" ry="1.05" fill="#b2b5b7"/>
<ellipse cx="365.3" cy="511.2" rx="2.4" ry="1.05" fill="#b2b5b7"/>
<ellipse cx="386.6" cy="511.2" rx="2.4" ry="1.05" fill="#b2b5b7"/>
<ellipse cx="407.9" cy="511.2" rx="2.4" ry="1.05" fill="#b2b5b7"/>
<ellipse cx="429.2" cy="511.2" rx="2.4" ry="1.05" fill="#b2b5b7"/>
<ellipse cx="450.5" cy="511.2" rx="2.4" ry="1.05" fill="#b2b5b7"/>
<ellipse cx="471.8" cy="511.2" rx="2.4" ry="1.05" fill="#b2b5b7"/>
<ellipse cx="493.1" cy="511.2" rx="2.4" ry="1.05" fill="#b2b5b7"/>
<ellipse cx="514.4" cy="511.2" rx="2.4" ry="1.05" fill="#b2b5b7"/>
<ellipse cx="535.7" cy="511.2" rx="2.4" ry="1.05" fill="#b2b5b7"/>
<ellipse cx="557.0" cy="511.2" rx="2.4" ry="1.05" fill="#b2b5b7"/>
<ellipse cx="578.3" cy="511.2" rx="2.4" ry="1.05" fill="#b2b5b7"/>
<path d="M122.6,519.4 H614.6 V650 q0,2 -2,2 H124.6 q-2,0 -2,-2 Z" fill="url(#zinc)"/>
<path d="M122.6,520 H614.6" stroke="#d6d8d6" stroke-width="1.4"/>
<rect x="146" y="523" width="29" height="23" fill="#cccecb"/>
<path d="M146,546 V523 H175" fill="none" stroke="#eceeeb" stroke-width="1.3"/>
<path d="M175,523 V546 H146" fill="none" stroke="#7c7e7a" stroke-width="1.3"/>
<rect x="195" y="522" width="22" height="24" fill="#cccecb"/>
<path d="M195,546 V522 H217" fill="none" stroke="#eceeeb" stroke-width="1.3"/>
<path d="M217,522 V546 H195" fill="none" stroke="#7c7e7a" stroke-width="1.3"/>
<rect x="238" y="523" width="25.6" height="23" fill="#cccecb"/>
<path d="M238,546 V523 H263.6" fill="none" stroke="#eceeeb" stroke-width="1.3"/>
<path d="M263.6,523 V546 H238" fill="none" stroke="#7c7e7a" stroke-width="1.3"/>
<rect x="146" y="630" width="29" height="19" fill="#cccecb"/>
<path d="M146,649 V630 H175" fill="none" stroke="#eceeeb" stroke-width="1.3"/>
<path d="M175,630 V649 H146" fill="none" stroke="#7c7e7a" stroke-width="1.3"/>
<rect x="195" y="630" width="22" height="19" fill="#cccecb"/>
<path d="M195,649 V630 H217" fill="none" stroke="#eceeeb" stroke-width="1.3"/>
<path d="M217,630 V649 H195" fill="none" stroke="#7c7e7a" stroke-width="1.3"/>
<rect x="238" y="630" width="25.6" height="19" fill="#cccecb"/>
<path d="M238,649 V630 H263.6" fill="none" stroke="#eceeeb" stroke-width="1.3"/>
<path d="M263.6,630 V649 H238" fill="none" stroke="#7c7e7a" stroke-width="1.3"/>
<rect x="143.2" y="521.4" width="3.4" height="128" fill="#868884"/>
<rect x="142.2" y="521.4" width="1.2" height="128" fill="#dfe1de"/>
<path d="M197,650 v-6 a8,8 0 0 1 16,0 v6 z" fill="#a2a4a0"/>
<path d="M279.4,526.4 q0,-2 2,-2 H308.2 q2,0 2,2 V571 L294.79999999999995,586.8 L279.4,571 Z" fill="#d6d8d5" stroke="#a0a29e" stroke-width="1"/>
<path d="M280.59999999999997,527.4 V571 L294.79999999999995,585.8" fill="none" stroke="#80827e" stroke-width="2.8" stroke-linejoin="round" filter="url(#b05)" opacity="0.9"/>
<path d="M294.79999999999995,585.8 L309.2,571" fill="none" stroke="#9a9c98" stroke-width="1.6" filter="url(#b05)" opacity="0.8"/>
<path d="M282.4,525.6 H309.2 V569" fill="none" stroke="#eef0ed" stroke-width="1.2"/>
<path d="M317.6,526.4 q0,-2 2,-2 H345.4 q2,0 2,2 V565.4 L332.5,583 L317.6,565.4 Z" fill="#d6d8d5" stroke="#a0a29e" stroke-width="1"/>
<path d="M318.8,527.4 V565.4 L332.5,582" fill="none" stroke="#80827e" stroke-width="2.8" stroke-linejoin="round" filter="url(#b05)" opacity="0.9"/>
<path d="M332.5,582 L346.4,565.4" fill="none" stroke="#9a9c98" stroke-width="1.6" filter="url(#b05)" opacity="0.8"/>
<path d="M320.6,525.6 H346.4 V563.4" fill="none" stroke="#eef0ed" stroke-width="1.2"/>
<path d="M281,648.6 V612 L296.0,597 L311,612 V648.6 Z" fill="#d6d8d5" stroke="#a0a29e" stroke-width="1"/>
<path d="M282.2,648.6 V612.6 L296.0,598.2" fill="none" stroke="#80827e" stroke-width="2.8" stroke-linejoin="round" filter="url(#b05)" opacity="0.9"/>
<path d="M297.4,599 L310,612.6 V648.6" fill="none" stroke="#eef0ed" stroke-width="1.2"/>
<path d="M281,648.0 H311" stroke="#80827e" stroke-width="2.2" filter="url(#b05)"/>
<path d="M318,648.6 V618.6 L333.2,604.4 L348.4,618.6 V648.6 Z" fill="#d6d8d5" stroke="#a0a29e" stroke-width="1"/>
<path d="M319.2,648.6 V619.2 L333.2,605.6" fill="none" stroke="#80827e" stroke-width="2.8" stroke-linejoin="round" filter="url(#b05)" opacity="0.9"/>
<path d="M334.59999999999997,606.4 L347.4,619.2 V648.6" fill="none" stroke="#eef0ed" stroke-width="1.2"/>
<path d="M318,648.0 H348.4" stroke="#80827e" stroke-width="2.2" filter="url(#b05)"/>
<path d="M381.6,539 q0,-6 6,-6 H584 q6,0 6,6 V632 q0,6 -6,6 H358.8 q-6,0 -6,-6 V613.8 q0,-6 6,-6 H375.6 q6,0 6,-6 Z" fill="#cdcfcc" stroke="#8a8c88" stroke-width="1.3"/>
<path d="M382.9,601 V539 q0,-4.8 4.8,-4.8 H584" fill="none" stroke="#e6e8e5" stroke-width="1.1"/>
<path d="M354,632 V613.8 q0,-4.8 4.8,-4.8 H376" fill="none" stroke="#e6e8e5" stroke-width="1.1"/>
<path d="M588.7,540 V632 q0,4.8 -4.8,4.8 H360" fill="none" stroke="#a3a5a1" stroke-width="1.1"/>
<rect x="591" y="571" width="20" height="30" rx="3" fill="#c2c4c1" stroke="#8e908c" stroke-width="0.8"/>
<path d="M122.6,519.4 H614.6 V650 q0,2 -2,2 H124.6 q-2,0 -2,-2 Z" fill="#808080" filter="url(#noise)" opacity="0.10"/>
<rect x="196" y="521" width="20" height="26" rx="3" fill="#c6c8c5" stroke="#8e908c" stroke-width="0.8"/>
<rect x="357" y="520" width="19" height="22" rx="3" fill="#c6c8c5" stroke="#8e908c" stroke-width="0.8"/>
<rect x="128" y="577" width="19" height="18" rx="2.5" fill="#cfd1ce" stroke="#8e908c" stroke-width="0.8"/>
<rect x="264" y="588.6" width="18" height="18" rx="2.5" fill="#cfd1ce" stroke="#8e908c" stroke-width="0.8"/>
<circle cx="205.6" cy="535.4" r="7.7" fill="#6f716d" opacity="0.75"/>
<circle cx="205.6" cy="534.6" r="6.4" fill="#d6d6ce" stroke="#77745f" stroke-width="0.9"/>
<circle cx="204.32" cy="533.0" r="3.84" fill="#fff" opacity="0.4"/>
<path d="M201.76,533.64 L209.44,535.5600000000001 M204.64,538.44 L206.56,530.76" stroke="#6a6250" stroke-width="1.79" stroke-linecap="round"/>
<circle cx="135.4" cy="586.4" r="8.3" fill="#6f716d" opacity="0.75"/>
<circle cx="135.4" cy="585.6" r="7" fill="#c9b77e" stroke="#77745f" stroke-width="0.9"/>
<circle cx="134.0" cy="583.85" r="4.2" fill="#fff" opacity="0.4"/>
<path d="M131.20000000000002,584.5500000000001 L139.6,586.65 M134.35,589.8000000000001 L136.45000000000002,581.4" stroke="#5e4e2c" stroke-width="1.96" stroke-linecap="round"/>
<circle cx="273" cy="598.1999999999999" r="7.5" fill="#6f716d" opacity="0.75"/>
<circle cx="273" cy="597.4" r="6.2" fill="#d6d6ce" stroke="#77745f" stroke-width="0.9"/>
<circle cx="271.76" cy="595.85" r="3.7199999999999998" fill="#fff" opacity="0.4"/>
<path d="M269.28,596.47 L276.72,598.3299999999999 M272.07,601.12 L273.93,593.68" stroke="#6a6250" stroke-width="1.74" stroke-linecap="round"/>
<circle cx="344.4" cy="598.4" r="7.5" fill="#6f716d" opacity="0.75"/>
<circle cx="344.4" cy="597.6" r="6.2" fill="#d6d6ce" stroke="#77745f" stroke-width="0.9"/>
<circle cx="343.15999999999997" cy="596.0500000000001" r="3.7199999999999998" fill="#fff" opacity="0.4"/>
<path d="M340.67999999999995,596.6700000000001 L348.12,598.53 M343.46999999999997,601.32 L345.33,593.88" stroke="#6a6250" stroke-width="1.74" stroke-linecap="round"/>
<circle cx="366.7" cy="529.6999999999999" r="6.7" fill="#6f716d" opacity="0.75"/>
<circle cx="366.7" cy="528.9" r="5.4" fill="#c9b77e" stroke="#77745f" stroke-width="0.9"/>
<circle cx="365.62" cy="527.55" r="3.24" fill="#fff" opacity="0.4"/>
<path d="M363.46,528.09 L369.94,529.7099999999999 M365.89,532.14 L367.51,525.66" stroke="#5e4e2c" stroke-width="1.51" stroke-linecap="round"/>
<rect x="146" y="545" width="118" height="86" rx="1.5" fill="#2a2a2a"/>
<rect x="146" y="545" width="118" height="11" rx="1.5" fill="#1c1c1c"/>
<rect x="146" y="555.4" width="118" height="1.2" fill="#3a3a3a"/>
<rect x="165" y="560" width="74" height="33" fill="#141414"/>
<rect x="165" y="596.4" width="74" height="32.6" fill="#141414"/>
<rect x="165" y="575" width="74" height="10" fill="#222" opacity="0.7"/>
<rect x="165" y="604" width="74" height="9" fill="#202020" opacity="0.7"/>
<rect x="155" y="560" width="10" height="11" fill="#121212"/>
<rect x="149" y="586" width="14.6" height="26" fill="#3a3a3a"/>
<circle cx="157" cy="595.4" r="3.8" fill="#0a0a0a"/>
<rect x="153" y="615" width="12" height="14" fill="#121212"/>
<rect x="241" y="560" width="17.4" height="12.4" fill="#101010"/>
<rect x="146" y="629" width="118" height="2" fill="#161616"/>
<rect x="177.1" y="560.5" width="1.9" height="5" fill="#d0d0d0"/>
<rect x="177.1" y="576.8000000000001" width="1.9" height="5.6" fill="#d0d0d0"/>
<rect x="177.1" y="597.5" width="1.9" height="5" fill="#d0d0d0"/>
<rect x="177.1" y="613.4000000000001" width="1.9" height="5.6" fill="#d0d0d0"/>
<rect x="193.5" y="560.5" width="1.9" height="5" fill="#d0d0d0"/>
<rect x="193.5" y="576.8000000000001" width="1.9" height="5.6" fill="#d0d0d0"/>
<rect x="193.5" y="597.5" width="1.9" height="5" fill="#d0d0d0"/>
<rect x="193.5" y="613.4000000000001" width="1.9" height="5.6" fill="#d0d0d0"/>
<rect x="210.1" y="560.5" width="1.9" height="5" fill="#d0d0d0"/>
<rect x="210.1" y="576.8000000000001" width="1.9" height="5.6" fill="#d0d0d0"/>
<rect x="210.1" y="597.5" width="1.9" height="5" fill="#d0d0d0"/>
<rect x="210.1" y="613.4000000000001" width="1.9" height="5.6" fill="#d0d0d0"/>
<rect x="227.1" y="560.5" width="1.9" height="5" fill="#d0d0d0"/>
<rect x="227.1" y="576.8000000000001" width="1.9" height="5.6" fill="#d0d0d0"/>
<rect x="227.1" y="597.5" width="1.9" height="5" fill="#d0d0d0"/>
<rect x="227.1" y="613.4000000000001" width="1.9" height="5.6" fill="#d0d0d0"/>
<rect x="241.6" y="575.4" width="16" height="54" rx="2" fill="#d9524a"/>
<rect x="244" y="578" width="8" height="49" rx="1" fill="#ee9a92" opacity="0.85"/>
<rect x="254.4" y="577" width="2.6" height="51" fill="#b43a32" opacity="0.75"/>
<rect x="247.6" y="584.6" width="2" height="8" fill="#f6e8e4"/><rect x="247.6" y="616.6" width="2" height="8" fill="#f6e8e4"/>
<rect x="241.6" y="575.4" width="16" height="3" rx="1.4" fill="#f0a8a0" opacity="0.8"/>
<circle cx="600" cy="585.5999999999999" r="7.3" fill="#6f716d" opacity="0.75"/>
<circle cx="600" cy="584.8" r="6" fill="#c9b77e" stroke="#77745f" stroke-width="0.9"/>
<circle cx="598.8" cy="583.3" r="3.5999999999999996" fill="#fff" opacity="0.4"/>
<path d="M596.4,583.9 L603.6,585.6999999999999 M599.1,588.4 L600.9,581.1999999999999" stroke="#5e4e2c" stroke-width="1.68" stroke-linecap="round"/>
<text x="395.1" y="549.8000000000001" font-size="10.2" fill="#8d8f8b" textLength="96.6" lengthAdjust="spacingAndGlyphs" stroke="#8d8f8b" stroke-width="0.3" font-weight="bold" font-style="italic">L-OUT V-OUT CVBS IN</text>
<text x="394.6" y="549.2" font-size="10.2" fill="#d3d5d2" textLength="96.6" lengthAdjust="spacingAndGlyphs" stroke="#d3d5d2" stroke-width="0.2" font-weight="bold" font-style="italic">L-OUT V-OUT CVBS IN</text>
<text x="402.1" y="631.0" font-size="9.4" fill="#8d8f8b" textLength="86" lengthAdjust="spacingAndGlyphs" stroke="#8d8f8b" stroke-width="0.3" font-weight="bold" font-style="italic">R-OUT V-OUT CAM IN</text>
<text x="401.6" y="630.4" font-size="9.4" fill="#d3d5d2" textLength="86" lengthAdjust="spacingAndGlyphs" stroke="#d3d5d2" stroke-width="0.2" font-weight="bold" font-style="italic">R-OUT V-OUT CAM IN</text>
<text x="507.8" y="585.5" font-size="15.4" fill="#8f918d" textLength="26" lengthAdjust="spacingAndGlyphs" stroke="#8f918d" stroke-width="0.3">ANT</text>
<text x="507.2" y="584.8" font-size="15.4" fill="#d3d5d2" textLength="26" lengthAdjust="spacingAndGlyphs" stroke="#d3d5d2" stroke-width="0.2">ANT</text>
<circle cx="369.9" cy="617" r="9.6" fill="#141414"/><circle cx="369.9" cy="617" r="6.4" fill="#262626"/><circle cx="369.9" cy="617" r="3.4" fill="#040404"/>
<path d="M363,612 a8.4,8.4 0 0 1 11,-2.4" fill="none" stroke="#555" stroke-width="1" opacity="0.7"/>
<circle cx="401" cy="573.1999999999999" r="15.6" fill="#6e706c" opacity="0.55"/>
<circle cx="401" cy="572.4" r="14.8" fill="#131313"/>
<circle cx="401" cy="572.4" r="12.4" fill="none" stroke="#3a3a3a" stroke-width="1.2"/>
<circle cx="401" cy="572.4" r="10" fill="#f1f1ef"/><circle cx="401" cy="572.4" r="7" fill="#cfcfcc"/>
<circle cx="401" cy="572.4" r="5" fill="#080808"/>
<circle cx="400.8" cy="609.0" r="15.6" fill="#6e706c" opacity="0.55"/>
<circle cx="400.8" cy="608.2" r="14.8" fill="#131313"/>
<circle cx="400.8" cy="608.2" r="12.4" fill="none" stroke="#3a3a3a" stroke-width="1.2"/>
<circle cx="400.8" cy="608.2" r="10.2" fill="#e9e8e5"/><circle cx="400.8" cy="608.2" r="7.8" fill="#e4402f"/><circle cx="400.8" cy="608.2" r="5.6" fill="#8e2016"/>
<circle cx="400.8" cy="608.2" r="3.8" fill="#080808"/>
<circle cx="438.2" cy="573.4" r="15.6" fill="#6e706c" opacity="0.55"/>
<circle cx="438.2" cy="572.6" r="14.8" fill="#131313"/>
<circle cx="438.2" cy="572.6" r="12.4" fill="none" stroke="#3a3a3a" stroke-width="1.2"/>
<circle cx="438.2" cy="572.6" r="9" fill="#f3e51c"/><circle cx="438.2" cy="572.6" r="6.2" fill="#d5c410"/>
<circle cx="438.2" cy="572.6" r="4.6" fill="#080808"/>
<circle cx="438.6" cy="609.0" r="15.6" fill="#6e706c" opacity="0.55"/>
<circle cx="438.6" cy="608.2" r="14.8" fill="#131313"/>
<circle cx="438.6" cy="608.2" r="12.4" fill="none" stroke="#3a3a3a" stroke-width="1.2"/>
<circle cx="438.6" cy="608.2" r="9" fill="#f3e51c"/><circle cx="438.6" cy="608.2" r="6.2" fill="#d5c410"/>
<circle cx="438.6" cy="608.2" r="4.6" fill="#080808"/>
<circle cx="477.6" cy="573.4" r="15.6" fill="#6e706c" opacity="0.55"/>
<circle cx="477.6" cy="572.6" r="14.8" fill="#131313"/>
<circle cx="477.6" cy="572.6" r="12.4" fill="none" stroke="#3a3a3a" stroke-width="1.2"/>
<circle cx="477.6" cy="572.6" r="9" fill="#f3e51c"/><circle cx="477.6" cy="572.6" r="6.2" fill="#d5c410"/>
<circle cx="477.6" cy="572.6" r="4.6" fill="#080808"/>
<circle cx="477.6" cy="609.0" r="15.6" fill="#6e706c" opacity="0.55"/>
<circle cx="477.6" cy="608.2" r="14.8" fill="#131313"/>
<circle cx="477.6" cy="608.2" r="12.4" fill="none" stroke="#3a3a3a" stroke-width="1.2"/>
<circle cx="477.6" cy="608.2" r="9" fill="#f3e51c"/><circle cx="477.6" cy="608.2" r="6.2" fill="#d5c410"/>
<circle cx="477.6" cy="608.2" r="4.6" fill="#080808"/>
<circle cx="419" cy="589.4" r="5.5" fill="#6f716d" opacity="0.75"/>
<circle cx="419" cy="588.6" r="4.2" fill="#d6d6ce" stroke="#77745f" stroke-width="0.9"/>
<circle cx="418.16" cy="587.5500000000001" r="2.52" fill="#fff" opacity="0.4"/>
<path d="M416.48,587.97 L421.52,589.23 M418.37,591.12 L419.63,586.08" stroke="#6a6250" stroke-width="1.20" stroke-linecap="round"/>
<circle cx="457.8" cy="589.4" r="5.5" fill="#6f716d" opacity="0.75"/>
<circle cx="457.8" cy="588.6" r="4.2" fill="#d6d6ce" stroke="#77745f" stroke-width="0.9"/>
<circle cx="456.96000000000004" cy="587.5500000000001" r="2.52" fill="#fff" opacity="0.4"/>
<path d="M455.28000000000003,587.97 L460.32,589.23 M457.17,591.12 L458.43,586.08" stroke="#6a6250" stroke-width="1.20" stroke-linecap="round"/>
<circle cx="520.8" cy="606.6" r="18.8" fill="#252420"/>
<circle cx="520.8" cy="606.4" r="16.6" fill="#bdbcb4"/>
<circle cx="520.8" cy="606.4" r="14.6" fill="#4a4632"/>
<circle cx="520.8" cy="606.8" r="13.4" fill="#8e8140"/>
<ellipse cx="519.4" cy="600.6" rx="8" ry="5.4" fill="#4e4828" opacity="0.75"/>
<ellipse cx="521.6" cy="612" rx="8.6" ry="5" fill="#a89a52" opacity="0.7"/>
<circle cx="566.6" cy="572.8" r="14" fill="#f4f4f4"/>
<g transform="rotate(-27 566.6 572.8)">
<text x="566.2" y="570.6" font-size="6.8" fill="#555" text-anchor="middle" textLength="13.8" lengthAdjust="spacingAndGlyphs" stroke="#555" stroke-width="0.3">QC3</text>
<text x="567" y="578.6" font-size="6.8" fill="#555" text-anchor="middle" textLength="17.8" lengthAdjust="spacingAndGlyphs" stroke="#555" stroke-width="0.3">PASS</text>
</g>
<rect x="544" y="607.2" width="40" height="16.6" rx="1.2" fill="#1b1b1b"/>
<rect x="546" y="608.6" width="36.2" height="7.2" fill="#deded9"/>
<rect x="546" y="615.8" width="36.2" height="6.4" fill="#4a4843"/>
<rect x="549.4" y="616.4" width="5" height="2.6" fill="#1a1a1a"/>
<rect x="557.6" y="616.4" width="5" height="2.6" fill="#1a1a1a"/>
<rect x="565.8" y="616.4" width="5" height="2.6" fill="#1a1a1a"/>
<rect x="574.0" y="616.4" width="5" height="2.6" fill="#1a1a1a"/>
<rect x="581" y="608.6" width="1.6" height="13.6" fill="#bdbdb8"/>
<text x="222" y="670" font-size="11.3" fill="#262626" textLength="154.8" lengthAdjust="spacingAndGlyphs" stroke="#262626" stroke-width="0.5">External microphone input</text>
<text x="132" y="692" font-size="11.3" fill="#262626" textLength="104" lengthAdjust="spacingAndGlyphs" stroke="#262626" stroke-width="0.5">ISO standard plug</text>
<text x="110" y="704.8" font-size="11.3" fill="#262626" textLength="148" lengthAdjust="spacingAndGlyphs" stroke="#262626" stroke-width="0.5">Power plug/speaker plug</text>
<text x="282.8" y="690" font-size="11.3" fill="#262626" textLength="113" lengthAdjust="spacingAndGlyphs" stroke="#262626" stroke-width="0.5">Left channel output</text>
<text x="290" y="710" font-size="11.3" fill="#262626" textLength="122" lengthAdjust="spacingAndGlyphs" stroke="#262626" stroke-width="0.5">Right channel output</text>
<text x="369.2" y="734" font-size="11.3" fill="#262626" textLength="84.8" lengthAdjust="spacingAndGlyphs" stroke="#262626" stroke-width="0.5">Video output 1</text>
<text x="550" y="672" font-size="11.3" fill="#262626" textLength="52.8" lengthAdjust="spacingAndGlyphs" stroke="#262626" stroke-width="0.5">Rear USB</text>
<text x="504" y="688" font-size="11.3" fill="#262626" textLength="85.2" lengthAdjust="spacingAndGlyphs" stroke="#262626" stroke-width="0.5">Radio antenna</text>
<text x="423.2" y="687.2" font-size="11.3" fill="#262626" textLength="33.6" lengthAdjust="spacingAndGlyphs" stroke="#262626" stroke-width="0.5">Video</text>
<text x="423.2" y="700" font-size="11.3" fill="#262626" textLength="48" lengthAdjust="spacingAndGlyphs" stroke="#262626" stroke-width="0.5">output 2</text>
<text x="482.8" y="707.2" font-size="11.3" fill="#262626" textLength="66" lengthAdjust="spacingAndGlyphs" stroke="#262626" stroke-width="0.5">Video input</text>
<text x="461.2" y="722" font-size="11.3" fill="#262626" textLength="138.8" lengthAdjust="spacingAndGlyphs" stroke="#262626" stroke-width="0.5">Reversing camera input</text>
<path d="M170,614 V678" fill="none" stroke="#e0181e" stroke-width="2"/>
<path d="M368.8,617.4 V656" fill="none" stroke="#e0181e" stroke-width="2"/>
<path d="M401,574.6 H383.6 V678" fill="none" stroke="#e0181e" stroke-width="2"/>
<path d="M398.8,608.6 V698" fill="none" stroke="#e0181e" stroke-width="2"/>
<path d="M432,575.6 H418 V722" fill="none" stroke="#e0181e" stroke-width="2"/>
<path d="M438.6,610 V672" fill="none" stroke="#e0181e" stroke-width="2"/>
<path d="M477.2,610 V712" fill="none" stroke="#e0181e" stroke-width="2"/>
<path d="M486,572.8 H498.6 V688" fill="none" stroke="#e0181e" stroke-width="2"/>
<path d="M521.2,616 V674" fill="none" stroke="#e0181e" stroke-width="2"/>
<path d="M569.2,620 V660" fill="none" stroke="#e0181e" stroke-width="2"/>
</svg>
</body></html>
